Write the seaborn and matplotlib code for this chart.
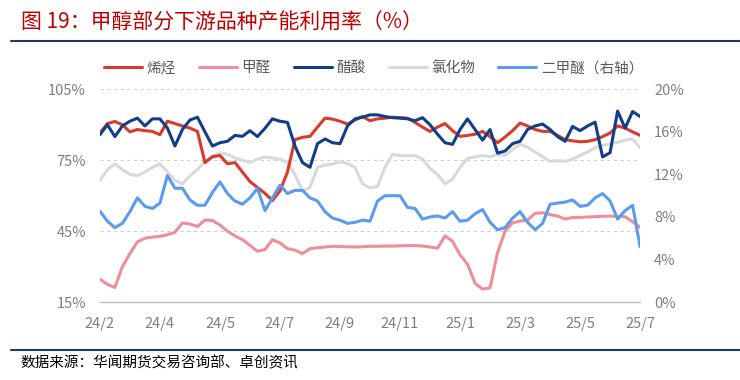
import matplotlib
matplotlib.use("Agg")
import matplotlib.pyplot as plt
import numpy as np
import pandas as pd
import seaborn as sns

# weekly capacity utilisation, 2024/2 - 2025/7
olefin = [86.5, 90.5, 91.4, 90, 87, 88, 87.5, 87.2, 85.8, 91.5,
          90.5, 89.5, 88.6, 87.2, 74, 76.5, 77, 73.5, 74, 70,
          66, 63.5, 61, 58, 62, 70, 83.7, 84.7, 85.1, 89,
          92.8, 92.4, 91.5, 90.3, 92, 93.5, 91.7, 92.5, 92.8, 93.2,
          93, 92.8, 91, 89, 87.2, 89, 90.5, 87.5, 85.1, 85.5,
          86, 87.2, 85, 82.4, 84.8, 87.5, 90.7, 89.5, 88, 87.2,
          87.2, 85.5, 83.7, 83.2, 82.8, 83, 83.7, 85, 86.5, 89.5,
          88.6, 87, 85.5]
formaldehyde = [24.7, 22.5, 21.2, 30, 35.5, 40.5, 42, 42.5, 42.8, 43.5,
                44.5, 48.5, 48, 47, 49.7, 49.5, 47.6, 45, 43, 41.4,
                39, 36.5, 37.2, 41.4, 40, 37.6, 37, 35.5, 37.6, 38,
                38.3, 38.6, 38.5, 38.4, 38.3, 38.4, 38.6, 38.6, 38.7, 38.7,
                38.8, 38.9, 38.9, 38.7, 38.3, 37.8, 43, 40.7, 35, 31,
                23, 20.5, 21, 36, 45, 48.5, 49.3, 49.7, 52.5, 52.8,
                52, 51.4, 50.1, 50.8, 50.8, 51, 51.1, 51.3, 51.4, 51.2,
                51.1, 49, 46.6]
acetic = [85.8, 90, 85, 89.5, 91.5, 92.8, 89.5, 92.5, 92.5, 88.6,
          81, 88, 92, 93.2, 87, 81, 82.4, 83, 85.5, 85.1,
          87.5, 85, 88.5, 92.5, 91.5, 91, 81, 74, 72, 82,
          84, 82.4, 82, 89.5, 92.5, 93.2, 94.2, 94.2, 93.5, 93,
          92.8, 92.5, 91.7, 93, 90, 86, 82.4, 81.7, 88, 92.5,
          88, 83.5, 88, 78, 78.9, 82, 83, 88, 89.5, 90.3,
          88, 85, 83, 89.3, 87.5, 89.5, 91.1, 76.4, 78.2, 95.8,
          88.6, 95.6, 93.5]
chloride = [66.4, 71, 73.5, 71, 69, 68.5, 70, 72, 73.5, 70,
            66.5, 65, 68.5, 71, 74.5, 76.5, 78.2, 77.5, 76, 75,
            74, 75.5, 76.4, 76, 75.4, 74, 69, 62, 63.5, 72,
            73, 73.3, 74.4, 73.5, 72, 65, 63.3, 64, 72, 77.5,
            77, 76.8, 77, 75.5, 71.5, 69, 65, 67, 72, 75.8,
            76.4, 77, 76.5, 77.5, 77, 79.5, 81.7, 80.5, 78.5, 76.5,
            74.5, 74.8, 74.5, 75.5, 77, 78.5, 80.3, 81.2, 82, 82.6,
            83.5, 84, 80.3]
dme = [8.55, 7.6, 7.0, 7.4, 8.5, 9.8, 9.0, 8.8, 9.3, 11.9,
       10.7, 10.7, 9.6, 9.1, 9.1, 10.3, 11.3, 10.2, 9.5, 9.2,
       9.8, 10.7, 8.6, 9.8, 11.0, 10.2, 10.5, 10.5, 9.8, 9.5,
       8.5, 7.9, 7.7, 7.4, 7.5, 7.7, 7.6, 9.5, 10.0, 10.0,
       10.0, 8.9, 8.8, 7.8, 8.0, 8.1, 7.9, 8.5, 7.6, 7.7,
       8.3, 8.7, 7.5, 6.8, 7.0, 7.9, 8.5, 7.5, 6.8, 7.4,
       9.2, 9.3, 9.4, 9.6, 9.0, 9.1, 9.8, 10.2, 9.5, 7.8,
       8.6, 9.1, 5.2]

x_labels = ['24/2', '24/4', '24/5', '24/7', '24/9', '24/11',
            '25/1', '25/3', '25/5', '25/7']
left_ticks = [15, 45, 75, 105]
right_ticks = [0, 4, 8, 12, 16, 20]

df = pd.DataFrame({'week': np.arange(len(olefin)), '烯烃': olefin,
                   '甲醛': formaldehyde, '醋酸': acetic,
                   '氯化物': chloride, '二甲醚（右轴）': dme})

sns.set_style('white')
plt.rcParams['font.family'] = ['Noto Sans CJK SC', 'DejaVu Sans']

fig = plt.figure(figsize=(7.4, 3.8), dpi=100)
ax = fig.add_axes([0.135, 0.205, 0.73, 0.56])
ax2 = ax.twinx()

colors = {'烯烃': '#D93A2B', '甲醛': '#EE8E99', '醋酸': '#123E87',
          '氯化物': '#D9D9D9', '二甲醚（右轴）': '#5B9BEF'}
lw = 2.2
for name in ['氯化物', '甲醛', '烯烃', '醋酸']:
    sns.lineplot(data=df, x='week', y=name, ax=ax, color=colors[name],
                 linewidth=lw, label=name, legend=False)
sns.lineplot(data=df, x='week', y='二甲醚（右轴）', ax=ax2,
             color=colors['二甲醚（右轴）'], linewidth=lw,
             label='二甲醚（右轴）', legend=False)

ax.set_xlim(0, len(olefin) - 1)
ax.set_ylim(15, 105)
ax2.set_ylim(0, 20)
ax.set_yticks(left_ticks)
ax.set_yticklabels([f'{v}%' for v in left_ticks])
ax2.set_yticks(right_ticks)
ax2.set_yticklabels([f'{v}%' for v in right_ticks])
ax.set_xticks(np.arange(0, len(olefin), 8))
ax.set_xticklabels(x_labels)
ax.set_xlabel('')
ax.set_ylabel('')
ax2.set_ylabel('')

for a in (ax, ax2):
    for s in ['top', 'left', 'right', 'bottom']:
        a.spines[s].set_visible(False)
ax.spines['bottom'].set_visible(True)
ax.spines['bottom'].set_color('#BFBFBF')
ax.spines['bottom'].set_linewidth(1.0)

ax.tick_params(axis='x', colors='#BFBFBF', length=5, width=1.0, pad=6,
               labelcolor='#7F7F7F', labelsize=10.5)
ax.tick_params(axis='y', length=0, pad=10, labelcolor='#7F7F7F', labelsize=10.5)
ax2.tick_params(axis='y', length=0, pad=10, labelcolor='#7F7F7F', labelsize=10.5)

for v in [45, 75, 105]:
    ax.axhline(v, color='#D0D0D0', linestyle=(0, (3, 3)), linewidth=0.8, zorder=0)

h1, l1 = ax.get_legend_handles_labels()
h2, l2 = ax2.get_legend_handles_labels()
order = ['烯烃', '甲醛', '醋酸', '氯化物']
handles = [h1[l1.index(n)] for n in order] + h2
labels = order + l2
leg = fig.legend(handles, labels, loc='center', bbox_to_anchor=(0.505, 0.82),
                 ncol=5, frameon=False, fontsize=10.5, handlelength=2.6,
                 columnspacing=1.6, handletextpad=0.3)
for t in leg.get_texts():
    t.set_color('#595959')

fig.text(0.028, 0.94, '图 19：甲醇部分下游品种产能利用率（%）', color='#C00000',
         fontsize=15, va='center', ha='left')
fig.add_artist(plt.Line2D([0.015, 1.0], [0.893, 0.893], color='#1F3864', linewidth=1.5))
fig.add_artist(plt.Line2D([0.015, 1.0], [0.078, 0.078], color='#1F3864', linewidth=1.5))
fig.text(0.027, 0.045, '数据来源：华闻期货交易咨询部、卓创资讯', color='black',
         fontsize=10.5, va='center', ha='left')

fig.savefig('out.png', dpi=100)
